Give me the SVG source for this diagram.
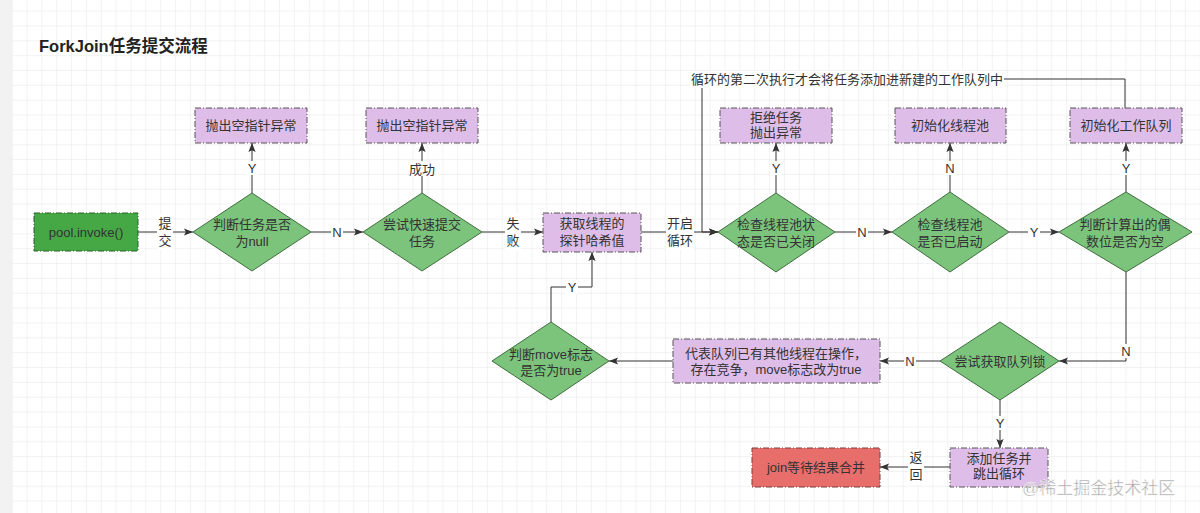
<svg xmlns="http://www.w3.org/2000/svg" width="1200" height="513" viewBox="0 0 1200 513">
<style>
text{font-family:'Liberation Sans','Noto Sans CJK SC',sans-serif;fill:#333;}
.t{font-size:13px;text-anchor:middle;}
.lb{font-size:13px;text-anchor:middle;}
.dia{fill:#7cc47c;stroke:#3f6e3f;stroke-width:1;}
.pk{fill:#dfbde9;stroke:#555;stroke-width:1;stroke-dasharray:6 2 1 2;}
.gr{fill:#45a845;stroke:#2f5f2f;stroke-width:1;stroke-dasharray:6 2 1 2;}
.rd{fill:#e86e6b;stroke:#7a3a3a;stroke-width:1;stroke-dasharray:6 2 1 2;}
.e{fill:none;stroke:#333;stroke-width:1;}
.bg{fill:#fff;}
</style>
<defs>
<pattern id="grid" x="11.7" y="10.6" width="14.85" height="14.85" patternUnits="userSpaceOnUse">
<path d="M0 0H14.85M0 0V14.85" fill="none" stroke="#e6e6e6" stroke-width="1"/>
</pattern>
<marker id="ar" viewBox="0 0 10 10" refX="10" refY="5" markerWidth="9" markerHeight="9" markerUnits="userSpaceOnUse" orient="auto">
<path d="M0 1L10 5L0 9L2 5Z" fill="#333"/>
</marker>
</defs>
<rect width="1200" height="513" fill="#fff"/>
<rect width="1200" height="513" fill="url(#grid)"/>
<rect x="0" y="0" width="12" height="513" fill="#f2f2f2"/>
<text x="39" y="52" style="font-size:16.5px;font-weight:bold;fill:#222">ForkJoin任务提交流程</text>

<g id="connectors">
<path class="e" d="M138 232H193" marker-end="url(#ar)"/>
<rect class="bg" x="157" y="214" width="16" height="36"/>
<text class="lb" x="165" y="228">提</text><text class="lb" x="165" y="245">交</text>

<path class="e" d="M252 193V143" marker-end="url(#ar)"/>
<rect class="bg" x="246" y="161" width="12" height="14"/>
<text class="lb" x="252" y="173">Y</text>

<path class="e" d="M311 232H363" marker-end="url(#ar)"/>
<rect class="bg" x="331" y="225" width="12" height="14"/>
<text class="lb" x="337" y="237">N</text>

<path class="e" d="M422 193V143" marker-end="url(#ar)"/>
<rect class="bg" x="409" y="161" width="26" height="15"/>
<text class="lb" x="422" y="174">成功</text>

<path class="e" d="M482 232H543" marker-end="url(#ar)"/>
<rect class="bg" x="505" y="214" width="16" height="36"/>
<text class="lb" x="513" y="228">失</text><text class="lb" x="513" y="245">败</text>

<path class="e" d="M641 232H718" marker-end="url(#ar)"/>
<rect class="bg" x="666" y="214" width="28" height="36"/>
<text class="lb" x="680" y="228">开启</text><text class="lb" x="680" y="245">循环</text>

<path class="e" d="M1125 108V79H702V232H718" marker-end="url(#ar)"/>
<rect class="bg" x="690" y="71" width="314" height="17"/>
<text class="lb" x="847" y="84">循环的第二次执行才会将任务添加进新建的工作队列中</text>

<path class="e" d="M776 193V143" marker-end="url(#ar)"/>
<rect class="bg" x="770" y="161" width="12" height="14"/>
<text class="lb" x="776" y="173">Y</text>

<path class="e" d="M835 232H892" marker-end="url(#ar)"/>
<rect class="bg" x="856" y="225" width="12" height="14"/>
<text class="lb" x="862" y="237">N</text>

<path class="e" d="M950 192V143" marker-end="url(#ar)"/>
<rect class="bg" x="944" y="161" width="12" height="14"/>
<text class="lb" x="950" y="173">N</text>

<path class="e" d="M1009 232H1059" marker-end="url(#ar)"/>
<rect class="bg" x="1028" y="225" width="12" height="14"/>
<text class="lb" x="1034" y="237">Y</text>

<path class="e" d="M1126 192V143" marker-end="url(#ar)"/>
<rect class="bg" x="1120" y="161" width="12" height="14"/>
<text class="lb" x="1126" y="173">Y</text>

<path class="e" d="M1126 272V361H1059" marker-end="url(#ar)"/>
<rect class="bg" x="1120" y="344" width="12" height="14"/>
<text class="lb" x="1126" y="356">N</text>

<path class="e" d="M940 361H880" marker-end="url(#ar)"/>
<rect class="bg" x="904" y="354" width="12" height="14"/>
<text class="lb" x="910" y="366">N</text>

<path class="e" d="M673 361H609" marker-end="url(#ar)"/>

<path class="e" d="M551 322V287H592V252" marker-end="url(#ar)"/>
<rect class="bg" x="566" y="280" width="12" height="14"/>
<text class="lb" x="572" y="292">Y</text>

<path class="e" d="M1000 400V448" marker-end="url(#ar)"/>
<rect class="bg" x="994" y="416" width="12" height="14"/>
<text class="lb" x="1000" y="428">Y</text>

<path class="e" d="M950 467H880" marker-end="url(#ar)"/>
<rect class="bg" x="908" y="449" width="16" height="36"/>
<text class="lb" x="916" y="462">返</text><text class="lb" x="916" y="479">回</text>
</g>

<g id="n1"><rect class="gr" x="34" y="213" width="104" height="38"/><text class="t" x="86" y="237">pool.invoke()</text></g>

<g id="n2"><path class="dia" d="M252 193L311 232L252 271L193 232Z"/><text class="t" x="252" y="229">判断任务是否</text><text class="t" x="252" y="246">为null</text></g>
<g id="n3"><rect class="pk" x="195" y="108" width="112" height="35"/><text class="t" x="251" y="130">抛出空指针异常</text></g>

<g id="n4"><path class="dia" d="M422 193L482 232L422 271L363 232Z"/><text class="t" x="422" y="229">尝试快速提交</text><text class="t" x="422" y="246">任务</text></g>
<g id="n5"><rect class="pk" x="366" y="108" width="112" height="35"/><text class="t" x="422" y="130">抛出空指针异常</text></g>

<g id="n6"><rect class="pk" x="543" y="213" width="98" height="39"/><text class="t" x="592" y="228">获取线程的</text><text class="t" x="592" y="245">探针哈希值</text></g>

<g id="n7"><path class="dia" d="M776 193L835 232L776 272L718 232Z"/><text class="t" x="776" y="229">检查线程池状</text><text class="t" x="776" y="246">态是否已关闭</text></g>
<g id="n8"><rect class="pk" x="720" y="108" width="112" height="35"/><text class="t" x="776" y="122">拒绝任务</text><text class="t" x="776" y="137">抛出异常</text></g>

<g id="n9"><path class="dia" d="M950 192L1009 232L950 272L892 232Z"/><text class="t" x="950" y="229">检查线程池</text><text class="t" x="950" y="246">是否已启动</text></g>
<g id="n10"><rect class="pk" x="895" y="108" width="111" height="35"/><text class="t" x="950" y="130">初始化线程池</text></g>

<g id="n11"><path class="dia" d="M1126 192L1192 232L1126 272L1059 232Z"/><text class="t" x="1125" y="229">判断计算出的偶</text><text class="t" x="1125" y="246">数位是否为空</text></g>
<g id="n12"><rect class="pk" x="1070" y="108" width="112" height="35"/><text class="t" x="1126" y="130">初始化工作队列</text></g>

<g id="n13"><path class="dia" d="M1000 322L1059 361L1000 400L940 361Z"/><text class="t" x="1000" y="366">尝试获取队列锁</text></g>

<g id="n14"><rect class="pk" x="673" y="339" width="207" height="44"/><text class="t" x="776" y="358">代表队列已有其他线程在操作，</text><text class="t" x="776" y="374">存在竞争，move标志改为true</text></g>

<g id="n15"><path class="dia" d="M551 322L609 361L551 400L492 361Z"/><text class="t" x="551" y="359">判断move标志</text><text class="t" x="551" y="375">是否为true</text></g>

<g id="n16"><rect class="pk" x="950" y="448" width="98" height="39"/><text class="t" x="999" y="463">添加任务并</text><text class="t" x="999" y="478">跳出循环</text></g>

<g id="n17"><rect class="rd" x="752" y="448" width="128" height="39"/><text class="t" x="816" y="472">join等待结果合并</text></g>

<text x="1022" y="494" style="font-size:17px;fill:#a6a6a6;stroke:#fff;stroke-width:0.4">@稀土掘金技术社区</text>
</svg>
